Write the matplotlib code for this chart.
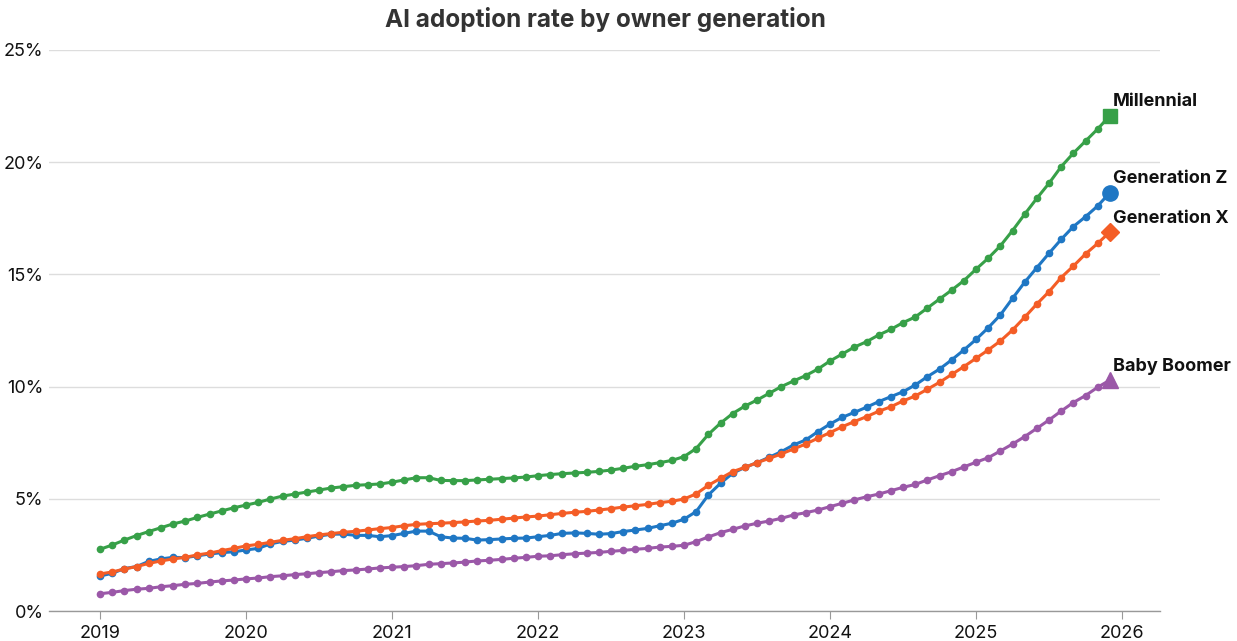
import matplotlib
matplotlib.use("Agg")
import matplotlib.pyplot as plt
import numpy as np

years = [2019, 2020, 2021, 2022, 2023, 2024, 2025, 2026]
tick_labels = ["2019", "2020", "2021", "2022", "2023", "2024", "2025", "2026"]
y_ticks = [0, 5, 10, 15, 20, 25]
y_tick_labels = ["0%", "5%", "10%", "15%", "20%", "25%"]

millennial = [
    2.75, 2.94, 3.16, 3.36, 3.54, 3.71, 3.88, 4.01, 4.17, 4.32, 4.46, 4.60,
    4.72, 4.84, 4.99, 5.12, 5.21, 5.30, 5.39, 5.48, 5.54, 5.60, 5.63, 5.66,
    5.74, 5.84, 5.94, 5.94, 5.82, 5.81, 5.81, 5.84, 5.87, 5.90, 5.93, 5.97,
    6.03, 6.08, 6.12, 6.15, 6.18, 6.22, 6.28, 6.36, 6.45, 6.52, 6.61, 6.71,
    6.88, 7.24, 7.87, 8.37, 8.80, 9.13, 9.40, 9.70, 10.00, 10.25, 10.49, 10.78,
    11.14, 11.45, 11.76, 12.00, 12.30, 12.55, 12.85, 13.10, 13.50, 13.90, 14.30, 14.72,
    15.23, 15.72, 16.27, 16.95, 17.68, 18.39, 19.06, 19.80, 20.40, 20.94, 21.48, 22.07,
]
gen_z = [
    1.56, 1.68, 1.89, 1.98, 2.21, 2.32, 2.39, 2.38, 2.46, 2.54, 2.60, 2.64,
    2.72, 2.79, 2.99, 3.10, 3.16, 3.24, 3.34, 3.42, 3.43, 3.37, 3.37, 3.31,
    3.36, 3.46, 3.56, 3.56, 3.31, 3.25, 3.24, 3.16, 3.18, 3.21, 3.24, 3.25,
    3.31, 3.37, 3.46, 3.48, 3.46, 3.42, 3.45, 3.54, 3.61, 3.68, 3.80, 3.91,
    4.09, 4.43, 5.17, 5.69, 6.14, 6.40, 6.61, 6.85, 7.10, 7.40, 7.62, 7.99,
    8.33, 8.63, 8.85, 9.08, 9.33, 9.55, 9.77, 10.07, 10.44, 10.78, 11.19, 11.63,
    12.10, 12.62, 13.19, 13.93, 14.65, 15.30, 15.94, 16.56, 17.13, 17.57, 18.05, 18.64,
]
gen_x = [
    1.65, 1.74, 1.87, 1.98, 2.12, 2.23, 2.32, 2.39, 2.50, 2.58, 2.69, 2.79,
    2.90, 2.97, 3.06, 3.15, 3.22, 3.31, 3.39, 3.45, 3.51, 3.55, 3.61, 3.67,
    3.72, 3.80, 3.86, 3.89, 3.91, 3.94, 3.97, 4.01, 4.04, 4.09, 4.14, 4.19,
    4.23, 4.29, 4.35, 4.40, 4.44, 4.50, 4.56, 4.63, 4.69, 4.75, 4.83, 4.89,
    4.99, 5.22, 5.60, 5.91, 6.21, 6.40, 6.61, 6.80, 7.00, 7.22, 7.44, 7.70,
    7.95, 8.21, 8.44, 8.66, 8.90, 9.10, 9.36, 9.58, 9.88, 10.19, 10.54, 10.89,
    11.26, 11.63, 12.03, 12.52, 13.09, 13.68, 14.23, 14.86, 15.37, 15.91, 16.38, 16.89,
]
baby_boomer = [
    0.77, 0.83, 0.91, 0.97, 1.01, 1.08, 1.13, 1.19, 1.23, 1.29, 1.34, 1.38,
    1.43, 1.47, 1.53, 1.57, 1.62, 1.66, 1.71, 1.75, 1.80, 1.83, 1.87, 1.92,
    1.95, 1.98, 2.02, 2.08, 2.11, 2.14, 2.18, 2.23, 2.26, 2.30, 2.35, 2.39,
    2.44, 2.46, 2.51, 2.55, 2.58, 2.61, 2.66, 2.70, 2.75, 2.79, 2.85, 2.88,
    2.93, 3.09, 3.30, 3.49, 3.64, 3.79, 3.91, 4.01, 4.13, 4.28, 4.38, 4.50,
    4.65, 4.80, 4.95, 5.09, 5.21, 5.36, 5.51, 5.64, 5.84, 6.03, 6.21, 6.42,
    6.63, 6.83, 7.13, 7.44, 7.77, 8.14, 8.51, 8.91, 9.29, 9.60, 9.97, 10.29,
]

series_names = ["Millennial", "Generation Z", "Generation X", "Baby Boomer"]
series_values = [millennial, gen_z, gen_x, baby_boomer]
colors = ["#37a048", "#1f77c4", "#f45d26", "#9b58a8"]
end_markers = ["s", "o", "D", "^"]
end_sizes = [10, 11, 9.5, 11]

start_year = 2019
months = np.arange(len(millennial))
x = start_year + months / 12.0

plt.rcParams["font.family"] = ["Inter", "DejaVu Sans"]

fig = plt.figure(figsize=(12.37, 6.41), dpi=100)
ax = fig.add_axes([49 / 1237, 1 - 611 / 641, (1160 - 49) / 1237, (611 - 50) / 641])

for name, vals, c, m, ms in zip(series_names, series_values, colors, end_markers, end_sizes):
    ax.plot(x, vals, color=c, lw=2.2, marker="o", ms=4.5, zorder=3, solid_capstyle="round")
    ax.plot(x[-1], vals[-1], marker=m, color=c, ms=ms, zorder=4, linestyle="none")
    ax.annotate(name, (x[-1], vals[-1]), xytext=(2, 10), textcoords="offset points",
                ha="left", va="center", fontsize=13, fontweight="bold", color="#111111",
                zorder=5, annotation_clip=False)

ax.set_xlim(start_year - 51 / 146, 2026 + 38 / 146)
ax.set_ylim(0, 25)
ax.set_xticks(years)
ax.set_xticklabels(tick_labels)
ax.set_yticks(y_ticks)
ax.set_yticklabels(y_tick_labels)

ax.grid(axis="y", color="#dddddd", lw=1)
ax.set_axisbelow(True)
for s in ["top", "right", "left"]:
    ax.spines[s].set_visible(False)
ax.spines["bottom"].set_color("#999999")
ax.spines["bottom"].set_linewidth(1)
ax.tick_params(axis="x", length=6, color="#999999", labelsize=13, pad=4, labelcolor="#111111")
ax.tick_params(axis="y", length=0, labelsize=13, pad=4, labelcolor="#111111")

fig.text(605 / 1237, 1 - 20 / 641, "AI adoption rate by owner generation", ha="center", va="center",
         fontsize=17.5, fontweight="bold", color="#333333")

fig.savefig("out.png", dpi=100)
